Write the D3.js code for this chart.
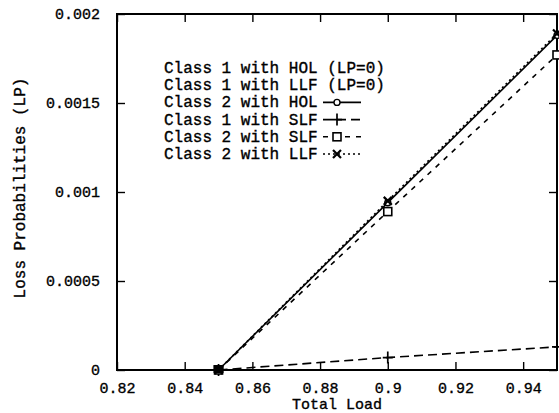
<!DOCTYPE html>
<html>
<head>
<meta charset="utf-8">
<script src="https://cdn.jsdelivr.net/npm/d3@7"></script>
<style>
  html, body { margin: 0; padding: 0; background: #fff; }
  svg { display: block; }
  text { font-family: "Liberation Mono", "DejaVu Sans Mono", monospace; fill: #000; stroke: #000; stroke-width: 0.35px; }
</style>
</head>
<body>
<svg id="chart" width="559" height="413"></svg>
<script>
// Loss probability vs. total load for the scheduling policies
const loads = [0.85, 0.9, 0.95];
const class2HOL = [0, 0.00094, 0.00188];
const class1SLF = [0, 0.00007, 0.00013];
const class2SLF = [0, 0.00089, 0.00177];
const class2LLF = [0, 0.00095, 0.00189];

const xTicks = [0.82, 0.84, 0.86, 0.88, 0.9, 0.92, 0.94];
const xTickLabels = ["0.82", "0.84", "0.86", "0.88", "0.9", "0.92", "0.94"];
const yTicks = [0, 0.0005, 0.001, 0.0015, 0.002];
const yTickLabels = ["0", "0.0005", "0.001", "0.0015", "0.002"];

const legendLabels = [
  "Class 1 with HOL (LP=0)",
  "Class 1 with LLF (LP=0)",
  "Class 2 with HOL",
  "Class 1 with SLF",
  "Class 2 with SLF",
  "Class 2 with LLF"
];

const series = [
  { values: class2HOL, dash: null, marker: "circle", legendRow: 2 },
  { values: class1SLF, dash: "9,5", marker: "plus", legendRow: 3 },
  { values: class2SLF, dash: "5,6", marker: "square", legendRow: 4 },
  { values: class2LLF, dash: "2,3", marker: "cross", legendRow: 5 }
];

const svg = d3.select("#chart");
const plotL = 117, plotR = 557, plotT = 14, plotB = 370;

const x = d3.scaleLinear().domain([0.82, 0.95]).range([plotL, plotR]);
const y = d3.scaleLinear().domain([0, 0.002]).range([plotB, plotT]);

svg.append("defs").append("clipPath").attr("id", "clip")
  .append("rect").attr("x", plotL).attr("y", plotT - 6)
  .attr("width", plotR - plotL + 6).attr("height", plotB - plotT + 12);

// inward ticks on all four sides
const tickLen = 8;
const axisStyle = g => {
  g.select(".domain").remove();
  g.selectAll(".tick line").attr("stroke", "#000").attr("stroke-width", 1.4);
  g.selectAll(".tick text").style("font-size", "15px");
};

svg.append("g")
  .attr("transform", `translate(0,${plotB})`)
  .call(d3.axisBottom(x).tickValues(xTicks)
    .tickFormat((d, i) => xTickLabels[i])
    .tickSizeInner(-tickLen).tickSizeOuter(0).tickPadding(12))
  .call(axisStyle);

svg.append("g")
  .attr("transform", `translate(0,${plotT})`)
  .call(d3.axisTop(x).tickValues(xTicks).tickFormat("")
    .tickSizeInner(-tickLen).tickSizeOuter(0))
  .call(axisStyle);

svg.append("g")
  .attr("transform", `translate(${plotL},0)`)
  .call(d3.axisLeft(y).tickValues(yTicks)
    .tickFormat((d, i) => yTickLabels[i])
    .tickSizeInner(-tickLen).tickSizeOuter(0).tickPadding(17))
  .call(axisStyle);

svg.append("g")
  .attr("transform", `translate(${plotR},0)`)
  .call(d3.axisRight(y).tickValues(yTicks).tickFormat("")
    .tickSizeInner(-tickLen).tickSizeOuter(0))
  .call(axisStyle);

// frame
svg.append("rect")
  .attr("x", plotL).attr("y", plotT)
  .attr("width", plotR - plotL).attr("height", plotB - plotT)
  .attr("fill", "none").attr("stroke", "#000").attr("stroke-width", 2);

// axis titles
svg.append("text")
  .attr("x", 337).attr("y", 409)
  .attr("text-anchor", "middle").style("font-size", "15px")
  .text("Total Load");

svg.append("text")
  .attr("transform", `translate(25,188) rotate(-90)`)
  .attr("text-anchor", "middle").style("font-size", "16px")
  .text("Loss Probabilities (LP)");

// marker shapes
function drawMarker(g, type, cx, cy) {
  if (type === "circle") {
    g.append("circle").attr("cx", cx).attr("cy", cy).attr("r", 3)
      .attr("fill", "#fff").attr("stroke", "#000").attr("stroke-width", 1.4);
  } else if (type === "square") {
    g.append("rect").attr("x", cx - 4).attr("y", cy - 4).attr("width", 8).attr("height", 8)
      .attr("fill", "#fff").attr("stroke", "#000").attr("stroke-width", 1.6);
  } else if (type === "plus") {
    g.append("path").attr("d", `M${cx - 5},${cy}H${cx + 5}M${cx},${cy - 6}V${cy + 6}`)
      .attr("stroke", "#000").attr("stroke-width", 1.7);
  } else if (type === "cross") {
    g.append("path").attr("d", `M${cx - 4},${cy - 4}L${cx + 4},${cy + 4}M${cx - 4},${cy + 4}L${cx + 4},${cy - 4}`)
      .attr("stroke", "#000").attr("stroke-width", 2.2);
  }
}

const lineGen = d3.line().x((d, i) => x(loads[i])).y(d => y(d));
const lines = svg.append("g").attr("clip-path", "url(#clip)");

series.forEach(s => {
  lines.append("path")
    .datum(s.values)
    .attr("d", lineGen)
    .attr("fill", "none")
    .attr("stroke", "#000")
    .attr("stroke-width", 1.6)
    .attr("stroke-dasharray", s.dash);
});
series.forEach(s => {
  s.values.forEach((v, i) => drawMarker(lines, s.marker, x(loads[i]), y(v)));
});
// coinciding markers at the onset load form a solid block
lines.append("rect")
  .attr("x", x(loads[0]) - 5).attr("y", y(0) - 5).attr("width", 10).attr("height", 8)
  .attr("fill", "#000");

// legend
const legTextX = 164, legY0 = 68, legStep = 17.2;
const legend = svg.append("g");
legendLabels.forEach((lab, i) => {
  legend.append("text")
    .attr("x", legTextX).attr("y", legY0 + i * legStep + 5)
    .style("font-size", "16px")
    .text(lab);
});
series.forEach(s => {
  const ly = legY0 + s.legendRow * legStep;
  legend.append("line")
    .attr("x1", 323).attr("x2", 361).attr("y1", ly).attr("y2", ly)
    .attr("stroke", "#000").attr("stroke-width", 1.6)
    .attr("stroke-dasharray", s.dash);
  drawMarker(legend, s.marker, 337, ly);
});
</script>
</body>
</html>
